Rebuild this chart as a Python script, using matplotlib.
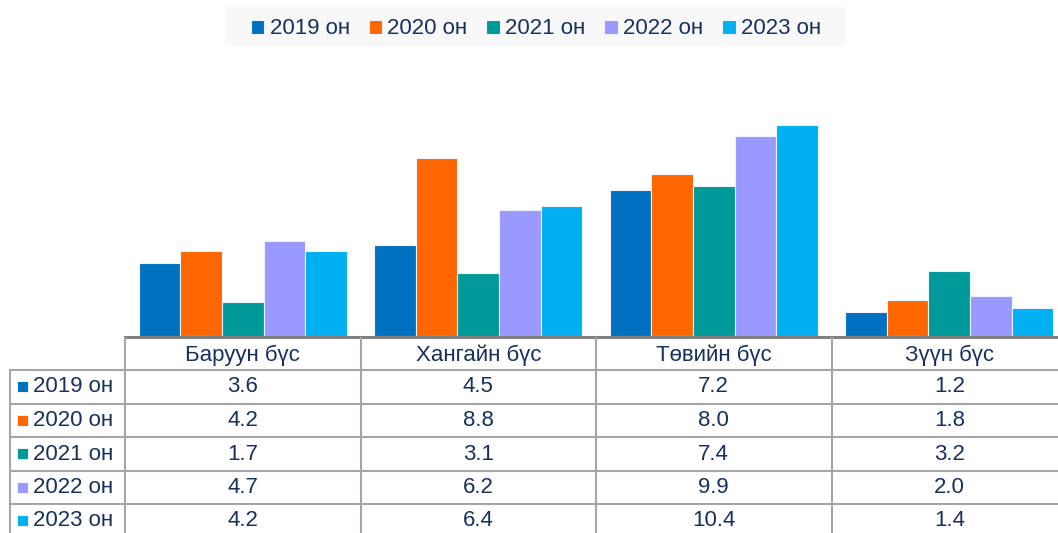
import matplotlib.pyplot as plt
from matplotlib.patches import Rectangle
import numpy as np

plt.rcParams['font.family'] = ['Liberation Sans', 'DejaVu Sans']

regions = ['Баруун бүс', 'Хангайн бүс', 'Төвийн бүс', 'Зүүн бүс']
years = ['2019 он', '2020 он', '2021 он', '2022 он', '2023 он']
v2019 = [3.6, 4.5, 7.2, 1.2]
v2020 = [4.2, 8.8, 8.0, 1.8]
v2021 = [1.7, 3.1, 7.4, 3.2]
v2022 = [4.7, 6.2, 9.9, 2.0]
v2023 = [4.2, 6.4, 10.4, 1.4]
series = [v2019, v2020, v2021, v2022, v2023]
colors = ['#0070C0', '#FF6600', '#009999', '#9999FF', '#00B0F0']
txt = '#17305e'
fs = 16

W, H = 1058, 533
fig = plt.figure(figsize=(W / 100, H / 100), dpi=100)

# main bar axes, in pixel terms: left 125, baseline 336, 235.5 px per category
cat_w = 235.5
left, base = 125, 336
ax = fig.add_axes([left / W, (H - base) / H, 4 * cat_w / W, 243 / H])
ax.set_xlim(-0.5, 3.5)
ax.set_ylim(0, 12)
x = np.arange(len(regions))
bw = 0.1767
for i, (vals, c) in enumerate(zip(series, colors)):
    ax.bar(x + (i - 2) * bw, vals, bw, color=c, edgecolor='#eef4ff',
           linewidth=0.8, label=years[i])
ax.axis('off')

# table drawn in a pixel-space overlay
tb = fig.add_axes([0, 0, 1, 1])
tb.set_xlim(0, W)
tb.set_ylim(H, 0)
tb.axis('off')

grid = '#a6a6a6'
col_edges = [left + k * cat_w for k in range(5)]
row_edges = [370, 404, 437, 471, 504, 538]
tb.plot([left, W], [base + 1, base + 1], color='#808080', lw=2.2)
for xe in col_edges:
    tb.plot([xe, xe], [base + 2, H], color=grid, lw=1.5)
tb.plot([10, 10], [row_edges[0], H], color=grid, lw=1.5)
for ye in row_edges[:-1]:
    tb.plot([10, W], [ye, ye], color=grid, lw=1.5)

for k, r in enumerate(regions):
    tb.text(left + (k + 0.5) * cat_w, 355, r, ha='center', va='center',
            fontsize=fs, color=txt)
for j, (vals, c) in enumerate(zip(series, colors)):
    yc = (row_edges[j] + row_edges[j + 1]) / 2
    tb.add_patch(Rectangle((17, yc - 6), 11, 11, facecolor=c,
                           edgecolor='#ffffff', lw=0.6))
    tb.text(33, yc, years[j], ha='left', va='center', fontsize=fs, color=txt)
    for k, v in enumerate(vals):
        tb.text(left + (k + 0.5) * cat_w, yc, f'{v:.1f}', ha='center',
                va='center', fontsize=fs, color=txt)

# legend box background
tb.add_patch(Rectangle((225, 7), 620, 39, facecolor='#f8f8f8',
                       edgecolor='none', zorder=0))
leg = fig.legend(loc='center', bbox_to_anchor=(536 / W, 1 - 29 / H), ncol=5,
                 frameon=False, fontsize=fs, handlelength=0.6, handleheight=0.6,
                 handletextpad=0.25, columnspacing=0.85, borderpad=0.3)
for t in leg.get_texts():
    t.set_color(txt)

fig.savefig('out.png', dpi=100)
